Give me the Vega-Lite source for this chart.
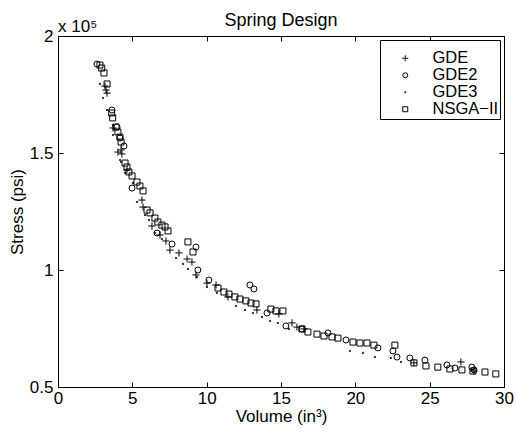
{
  "$schema": "https://vega.github.io/schema/vega-lite/v6.json",
  "width": 446,
  "height": 351,
  "autosize": "none",
  "padding": {"left": 58, "top": 36, "right": 12, "bottom": 49},
  "background": "white",
  "title": {"text": "Spring Design", "fontSize": 18, "fontWeight": "normal", "anchor": "middle", "frame": "group", "offset": -12, "color": "black", "font": "Liberation Sans"},
  "config": {
    "font": "Liberation Sans",
    "view": {"stroke": "black", "strokeWidth": 1},
    "axis": {"domain": false, "grid": false, "ticks": true, "tickColor": "black", "tickWidth": 1, "tickOpacity": 1, "tickSize": -5, "labelColor": "black", "labelFontSize": 17, "titleFontSize": 17, "titleFontWeight": "normal", "titleColor": "black", "labelFont": "Liberation Sans", "titleFont": "Liberation Sans"}
  },
  "data": {"values": [
    {"s":"NSGA−II","x":2.82,"y":187600},{"s":"NSGA−II","x":2.94,"y":186300},{"s":"NSGA−II","x":3.09,"y":184200},{"s":"NSGA−II","x":3.30,"y":179500},{"s":"NSGA−II","x":3.61,"y":167100},{"s":"NSGA−II","x":3.68,"y":165000},{"s":"NSGA−II","x":3.90,"y":161100},{"s":"NSGA−II","x":4.03,"y":159000},{"s":"NSGA−II","x":4.17,"y":156800},{"s":"NSGA−II","x":4.24,"y":154700},{"s":"NSGA−II","x":4.51,"y":145700},{"s":"NSGA−II","x":4.64,"y":144000},{"s":"NSGA−II","x":4.77,"y":141900},{"s":"NSGA−II","x":4.98,"y":140200},{"s":"NSGA−II","x":5.31,"y":137600},{"s":"NSGA−II","x":5.51,"y":135900},{"s":"NSGA−II","x":5.72,"y":133800},{"s":"NSGA−II","x":5.99,"y":125600},{"s":"NSGA−II","x":6.19,"y":124400},{"s":"NSGA−II","x":6.52,"y":122200},{"s":"NSGA−II","x":6.72,"y":120500},{"s":"NSGA−II","x":6.99,"y":119200},{"s":"NSGA−II","x":7.20,"y":118400},{"s":"NSGA−II","x":7.40,"y":116700},{"s":"NSGA−II","x":8.74,"y":112000},{"s":"NSGA−II","x":9.08,"y":107700},{"s":"NSGA−II","x":10.76,"y":92300},{"s":"NSGA−II","x":11.16,"y":90600},{"s":"NSGA−II","x":11.50,"y":89700},{"s":"NSGA−II","x":11.90,"y":88500},{"s":"NSGA−II","x":12.24,"y":87600},{"s":"NSGA−II","x":12.64,"y":86800},{"s":"NSGA−II","x":12.98,"y":85900},{"s":"NSGA−II","x":13.32,"y":85500},{"s":"NSGA−II","x":14.32,"y":83300},{"s":"NSGA−II","x":14.66,"y":82500},{"s":"NSGA−II","x":15.13,"y":82500},{"s":"NSGA−II","x":16.41,"y":74800},{"s":"NSGA−II","x":16.81,"y":73500},{"s":"NSGA−II","x":17.42,"y":72600},{"s":"NSGA−II","x":17.89,"y":71800},{"s":"NSGA−II","x":18.43,"y":71400},{"s":"NSGA−II","x":18.83,"y":70900},{"s":"NSGA−II","x":19.84,"y":69200},{"s":"NSGA−II","x":20.31,"y":68800},{"s":"NSGA−II","x":20.78,"y":68800},{"s":"NSGA−II","x":21.25,"y":67900},{"s":"NSGA−II","x":22.66,"y":67900},{"s":"NSGA−II","x":23.94,"y":60300},{"s":"NSGA−II","x":24.75,"y":59000},{"s":"NSGA−II","x":25.55,"y":58500},{"s":"NSGA−II","x":26.36,"y":57700},{"s":"NSGA−II","x":27.17,"y":57300},{"s":"NSGA−II","x":27.91,"y":56800},{"s":"NSGA−II","x":28.72,"y":56400},{"s":"NSGA−II","x":29.45,"y":55600},
    {"s":"GDE","x":3.16,"y":178600},{"s":"GDE","x":3.23,"y":176900},{"s":"GDE","x":3.30,"y":175600},{"s":"GDE","x":3.70,"y":160700},{"s":"GDE","x":4.03,"y":150400},{"s":"GDE","x":4.24,"y":151300},{"s":"GDE","x":4.30,"y":149600},{"s":"GDE","x":4.64,"y":142700},{"s":"GDE","x":5.65,"y":129900},{"s":"GDE","x":5.72,"y":126900},{"s":"GDE","x":6.32,"y":118800},{"s":"GDE","x":6.86,"y":115000},{"s":"GDE","x":7.26,"y":112400},{"s":"GDE","x":7.53,"y":108500},{"s":"GDE","x":8.14,"y":107300},{"s":"GDE","x":8.68,"y":104700},{"s":"GDE","x":9.01,"y":103400},{"s":"GDE","x":9.28,"y":97900},{"s":"GDE","x":10.02,"y":94400},{"s":"GDE","x":10.63,"y":93600},{"s":"GDE","x":11.43,"y":88500},{"s":"GDE","x":13.38,"y":82900},{"s":"GDE","x":14.86,"y":81200},{"s":"GDE","x":15.74,"y":77400},{"s":"GDE","x":16.07,"y":75600},{"s":"GDE","x":16.54,"y":74800},{"s":"GDE","x":23.94,"y":60300},{"s":"GDE","x":27.10,"y":60700},{"s":"GDE","x":27.98,"y":56800},
    {"s":"GDE2","x":2.62,"y":188000},{"s":"GDE2","x":3.63,"y":168400},{"s":"GDE2","x":3.97,"y":161100},{"s":"GDE2","x":4.17,"y":156400},{"s":"GDE2","x":4.44,"y":153000},{"s":"GDE2","x":4.98,"y":135000},{"s":"GDE2","x":6.66,"y":115800},{"s":"GDE2","x":7.67,"y":111100},{"s":"GDE2","x":9.28,"y":109800},{"s":"GDE2","x":9.41,"y":100000},{"s":"GDE2","x":10.15,"y":95700},{"s":"GDE2","x":12.91,"y":93600},{"s":"GDE2","x":13.18,"y":91900},{"s":"GDE2","x":14.06,"y":81600},{"s":"GDE2","x":15.33,"y":76100},{"s":"GDE2","x":16.41,"y":74800},{"s":"GDE2","x":18.16,"y":73100},{"s":"GDE2","x":19.37,"y":70100},{"s":"GDE2","x":21.52,"y":66700},{"s":"GDE2","x":22.53,"y":65400},{"s":"GDE2","x":22.80,"y":62800},{"s":"GDE2","x":23.67,"y":62400},{"s":"GDE2","x":24.68,"y":61500},{"s":"GDE2","x":26.16,"y":59400},{"s":"GDE2","x":26.70,"y":58100},{"s":"GDE2","x":27.84,"y":58500},{"s":"GDE2","x":27.98,"y":57300},
    {"s":"GDE3","x":2.82,"y":179500},{"s":"GDE3","x":3.03,"y":173500},{"s":"GDE3","x":3.30,"y":168400},{"s":"GDE3","x":3.70,"y":162000},{"s":"GDE3","x":3.70,"y":157700},{"s":"GDE3","x":4.17,"y":147000},{"s":"GDE3","x":4.24,"y":146200},{"s":"GDE3","x":4.51,"y":141500},{"s":"GDE3","x":5.04,"y":137200},{"s":"GDE3","x":5.31,"y":129100},{"s":"GDE3","x":5.85,"y":123500},{"s":"GDE3","x":6.12,"y":121400},{"s":"GDE3","x":6.52,"y":115800},{"s":"GDE3","x":6.99,"y":113200},{"s":"GDE3","x":7.94,"y":105100},{"s":"GDE3","x":8.41,"y":102600},{"s":"GDE3","x":8.74,"y":100400},{"s":"GDE3","x":9.35,"y":97000},{"s":"GDE3","x":10.02,"y":92700},{"s":"GDE3","x":10.69,"y":90200},{"s":"GDE3","x":11.97,"y":84600},{"s":"GDE3","x":12.58,"y":82900},{"s":"GDE3","x":13.11,"y":81600},{"s":"GDE3","x":13.72,"y":79900},{"s":"GDE3","x":14.26,"y":78200},{"s":"GDE3","x":14.79,"y":77400},{"s":"GDE3","x":15.53,"y":74800},{"s":"GDE3","x":19.64,"y":65400},{"s":"GDE3","x":20.51,"y":64500},{"s":"GDE3","x":21.32,"y":62800},{"s":"GDE3","x":22.39,"y":62400},{"s":"GDE3","x":23.07,"y":60700},{"s":"GDE3","x":27.84,"y":57300}
  ]},
  "layer": [
    {
      "mark": {"type": "point", "size": 36, "strokeWidth": 1, "stroke": "black", "filled": false, "opacity": 1},
      "encoding": {
        "x": {"field": "x", "type": "quantitative", "scale": {"domain": [0, 30], "nice": false, "zero": false}, "axis": {"values": [0,5,10,15,20,25,30], "title": "Volume (in³)", "labelPadding": 8, "titlePadding": 2, "labelFlush": false}},
        "y": {"field": "y", "type": "quantitative", "scale": {"domain": [50000, 200000], "nice": false, "zero": false}, "axis": {"values": [50000,100000,150000,200000], "labelExpr": "datum.value/100000", "title": "Stress (psi)", "labelPadding": 10, "titlePadding": 3, "labelFlush": false}},
        "shape": {"field": "s", "type": "nominal", "scale": {"domain": ["GDE","GDE2","GDE3","NSGA−II"], "range": ["M-1.2,0H1.2M0,-1.2V1.2", "circle", "M-0.18,-0.18H0.18V0.18H-0.18Z", "square"]},
          "legend": {"title": "\u00a0\u00a0\u00a0\u00a0\u00a0\u00a0\u00a0\u00a0\u00a0\u00a0\u00a0\u00a0\u00a0\u00a0\u00a0\u00a0\u00a0\u00a0\u00a0\u00a0\u00a0\u00a0\u00a0\u00a0\u00a0\u00a0\u00a0\u00a0\u00a0\u00a0\u00a0\u00a0\u00a0\u00a0\u00a0\u00a0\u00a0\u00a0\u00a0\u00a0\u00a0\u00a0\u00a0\u00a0\u00a0\u00a0\u00a0\u00a0\u00a0\u00a0\u00a0\u00a0\u00a0\u00a0\u00a0\u00a0\u00a0\u00a0", "titleFontSize": 8, "titlePadding": 1, "titleLimit": 300, "orient": "top-right", "offset": 4, "strokeColor": "black", "fillColor": "white", "padding": 1, "labelFontSize": 16.5, "labelColor": "black", "symbolStrokeColor": "black", "symbolFillColor": "transparent", "symbolStrokeWidth": 1, "symbolSize": 25, "rowPadding": -1.5, "labelOffset": 19, "symbolOffset": 16}}
      }
    },
    {
      "mark": {"type": "point", "opacity": 0},
      "encoding": {
        "x": {"field": "x", "type": "quantitative", "axis": {"orient": "top", "values": [0,5,10,15,20,25,30], "labels": false, "title": null}},
        "y": {"field": "y", "type": "quantitative", "axis": {"orient": "right", "values": [50000,100000,150000,200000], "labels": false, "title": null}}
      }
    },
    {
      "data": {"values": [{"label": "x 10⁵"}]},
      "mark": {"type": "text", "align": "left", "baseline": "alphabetic", "fontSize": 17, "dy": -4, "color": "black", "font": "Liberation Sans"},
      "encoding": {
        "x": {"datum": 0, "axis": null},
        "y": {"datum": 200000, "axis": null},
        "text": {"field": "label"}
      }
    }
  ],
  "resolve": {"axis": {"x": "independent", "y": "independent"}}
}
